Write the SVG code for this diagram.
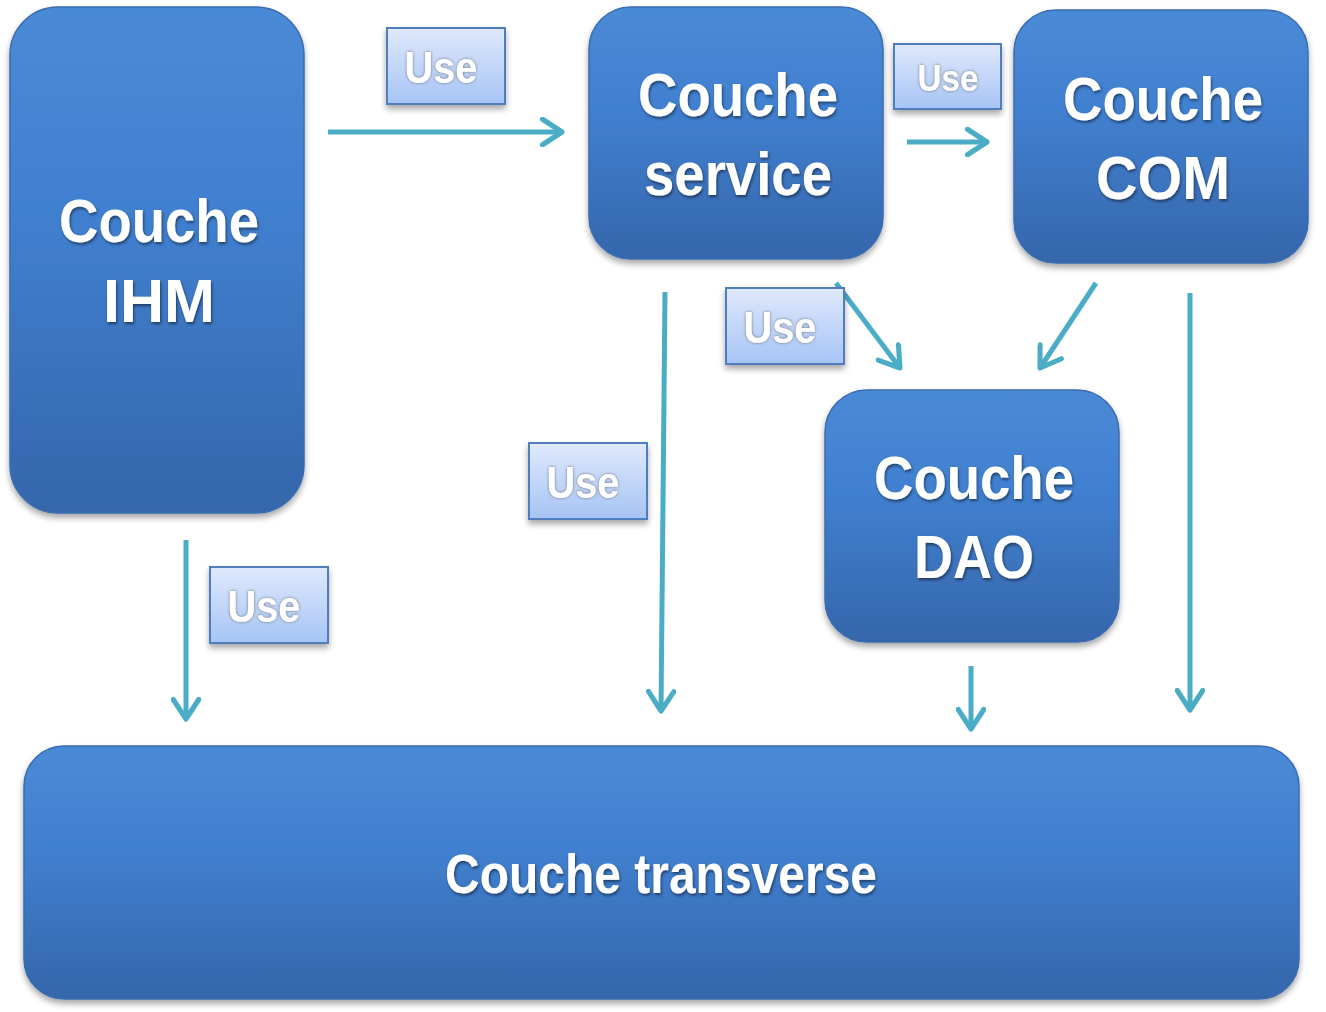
<svg xmlns="http://www.w3.org/2000/svg" width="1326" height="1012" viewBox="0 0 1326 1012">
<defs>
<linearGradient id="ng" x1="0" y1="0" x2="0" y2="1">
<stop offset="0" stop-color="#4a8ad6"/>
<stop offset="0.4" stop-color="#4180d0"/>
<stop offset="1" stop-color="#3566ab"/>
</linearGradient>
<linearGradient id="ug" x1="0" y1="0" x2="0" y2="1">
<stop offset="0" stop-color="#dfe9fc"/>
<stop offset="1" stop-color="#a6c4f5"/>
</linearGradient>
<filter id="sh" x="-10%" y="-10%" width="120%" height="125%">
<feDropShadow dx="0" dy="4" stdDeviation="3" flood-color="#000" flood-opacity="0.35"/>
</filter>
<filter id="ts" x="-10%" y="-10%" width="120%" height="130%">
<feDropShadow dx="1" dy="2" stdDeviation="1.5" flood-color="#000" flood-opacity="0.5"/>
</filter>
<filter id="us" x="-10%" y="-10%" width="120%" height="130%">
<feDropShadow dx="0" dy="0" stdDeviation="1.5" flood-color="#666" flood-opacity="0.9"/>
</filter>
<marker id="ah" viewBox="0 0 20 20" refX="17" refY="10" markerWidth="6" markerHeight="6" markerUnits="strokeWidth" orient="auto">
<path d="M4,1.5 L17,10 L4,18.5" fill="none" stroke="#4bacc6" stroke-width="3.4" stroke-linecap="round" stroke-linejoin="round"/>
</marker>
</defs>
<style>
.node{fill:url(#ng);stroke:#3a6cb0;stroke-width:1.5;filter:url(#sh)}
.nt{font-family:"Liberation Sans",Arial,sans-serif;font-weight:bold;fill:#fff;text-anchor:middle;filter:url(#ts)}
.ub{fill:url(#ug);stroke:#4f7dbd;stroke-width:2;filter:url(#sh)}
.ut{font-family:"Liberation Sans",Arial,sans-serif;font-weight:bold;fill:#fff;text-anchor:middle;filter:url(#us)}
.c{stroke:#4bacc6;stroke-width:5;fill:none;marker-end:url(#ah)}
</style>

<g id="ihm">
<rect class="node" x="10" y="7" width="294" height="506" rx="48"/>
<text class="nt" x="159" y="242" font-size="62" textLength="200" lengthAdjust="spacingAndGlyphs">Couche</text>
<text class="nt" x="159" y="322" font-size="62" textLength="112" lengthAdjust="spacingAndGlyphs">IHM</text>
</g>

<g id="service">
<rect class="node" x="589" y="7" width="294" height="252" rx="42"/>
<text class="nt" x="738" y="116" font-size="62" textLength="200" lengthAdjust="spacingAndGlyphs">Couche</text>
<text class="nt" x="738" y="195" font-size="62" textLength="188" lengthAdjust="spacingAndGlyphs">service</text>
</g>

<g id="com">
<rect class="node" x="1014" y="10" width="294" height="253" rx="42"/>
<text class="nt" x="1163" y="120" font-size="62" textLength="200" lengthAdjust="spacingAndGlyphs">Couche</text>
<text class="nt" x="1163" y="199" font-size="62" textLength="134" lengthAdjust="spacingAndGlyphs">COM</text>
</g>

<g id="dao">
<rect class="node" x="825" y="390" width="294" height="252" rx="42"/>
<text class="nt" x="974" y="499" font-size="62" textLength="200" lengthAdjust="spacingAndGlyphs">Couche</text>
<text class="nt" x="974" y="578" font-size="62" textLength="120" lengthAdjust="spacingAndGlyphs">DAO</text>
</g>

<g id="transverse">
<rect class="node" x="24" y="746" width="1275" height="253" rx="40"/>
<text class="nt" x="661" y="893" font-size="56" textLength="432" lengthAdjust="spacingAndGlyphs">Couche transverse</text>
</g>

<g id="connectors">
<line class="c" x1="328" y1="132" x2="562" y2="132"/>
<line class="c" x1="907" y1="142" x2="987" y2="142"/>
<line class="c" x1="836" y1="283" x2="900" y2="368"/>
<line class="c" x1="1096" y1="283" x2="1040" y2="368"/>
<line class="c" x1="665" y1="292" x2="661" y2="711"/>
<line class="c" x1="186" y1="540" x2="186" y2="719"/>
<line class="c" x1="971" y1="666" x2="971" y2="729"/>
<line class="c" x1="1190" y1="293" x2="1190" y2="710"/>
</g>

<g id="use1">
<rect class="ub" x="387" y="28" width="118" height="76"/>
<text class="ut" x="441" y="83" font-size="44" textLength="73" lengthAdjust="spacingAndGlyphs">Use</text>
</g>
<g id="use2">
<rect class="ub" x="894" y="44" width="107" height="65"/>
<text class="ut" x="948" y="91" font-size="37" textLength="61" lengthAdjust="spacingAndGlyphs">Use</text>
</g>
<g id="use3">
<rect class="ub" x="726" y="288" width="118" height="76"/>
<text class="ut" x="780" y="343" font-size="44" textLength="73" lengthAdjust="spacingAndGlyphs">Use</text>
</g>
<g id="use4">
<rect class="ub" x="529" y="443" width="118" height="76"/>
<text class="ut" x="583" y="498" font-size="44" textLength="73" lengthAdjust="spacingAndGlyphs">Use</text>
</g>
<g id="use5">
<rect class="ub" x="210" y="567" width="118" height="76"/>
<text class="ut" x="264" y="622" font-size="44" textLength="73" lengthAdjust="spacingAndGlyphs">Use</text>
</g>
</svg>
